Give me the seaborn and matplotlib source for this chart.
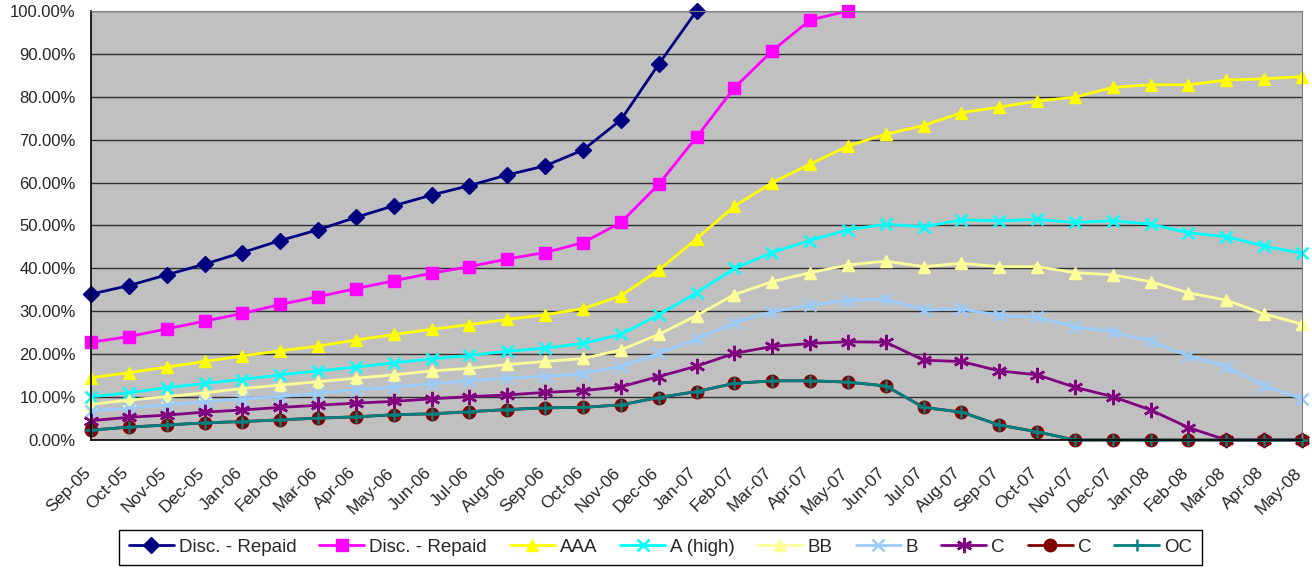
import numpy as np
import pandas as pd
import seaborn as sns
import matplotlib.pyplot as plt
from matplotlib.ticker import PercentFormatter
from matplotlib.transforms import ScaledTranslation

# eixo x: meses de Sep-05 a May-08
meses = ['Sep-05', 'Oct-05', 'Nov-05', 'Dec-05', 'Jan-06', 'Feb-06', 'Mar-06', 'Apr-06',
         'May-06', 'Jun-06', 'Jul-06', 'Aug-06', 'Sep-06', 'Oct-06', 'Nov-06', 'Dec-06',
         'Jan-07', 'Feb-07', 'Mar-07', 'Apr-07', 'May-07', 'Jun-07', 'Jul-07', 'Aug-07',
         'Sep-07', 'Oct-07', 'Nov-07', 'Dec-07', 'Jan-08', 'Feb-08', 'Mar-08', 'Apr-08',
         'May-08']

nan = np.nan
disc_repaid_1 = [34.0, 36.0, 38.5, 41.0, 43.7, 46.5, 49.0, 51.9, 54.6, 57.1, 59.3, 61.8,
                 63.9, 67.6, 74.6, 87.6, 100.0] + [nan] * 16
disc_repaid_2 = [22.8, 24.1, 25.9, 27.7, 29.5, 31.6, 33.4, 35.3, 37.1, 38.9, 40.4, 42.2,
                 43.7, 46.0, 50.7, 59.6, 70.6, 82.1, 90.7, 97.9, 100.0] + [nan] * 12
aaa = [14.5, 15.7, 17.0, 18.3, 19.6, 20.8, 21.9, 23.3, 24.6, 25.8, 26.9, 28.1,
       29.2, 30.6, 33.6, 39.6, 46.9, 54.5, 60.0, 64.3, 68.5, 71.3, 73.3, 76.3,
       77.6, 79.0, 79.9, 82.2, 82.8, 82.8, 83.9, 84.2, 84.7]
a_high = [10.1, 11.0, 12.2, 13.2, 14.1, 15.2, 16.1, 17.0, 18.0, 18.9, 19.7, 20.7,
          21.4, 22.5, 24.6, 29.2, 34.3, 40.0, 43.7, 46.5, 49.0, 50.3, 49.7, 51.3,
          51.1, 51.4, 50.7, 51.1, 50.3, 48.3, 47.4, 45.2, 43.5]
bb = [8.3, 9.3, 10.1, 11.0, 12.0, 12.8, 13.6, 14.4, 15.2, 16.1, 16.7, 17.6,
      18.3, 19.0, 21.0, 24.6, 29.0, 33.9, 36.9, 39.0, 40.8, 41.7, 40.4, 41.2,
      40.4, 40.4, 39.0, 38.5, 36.9, 34.3, 32.6, 29.4, 27.0]
b = [6.8, 7.4, 8.2, 8.9, 9.6, 10.1, 10.9, 11.7, 12.4, 13.1, 13.8, 14.4,
     14.8, 15.5, 17.1, 20.2, 23.5, 27.3, 29.9, 31.4, 32.5, 32.8, 30.3, 30.5,
     29.1, 28.6, 26.4, 25.2, 23.0, 19.6, 17.1, 12.7, 9.6]
c_1 = [4.5, 5.3, 5.8, 6.5, 7.0, 7.6, 8.1, 8.6, 9.0, 9.6, 10.1, 10.5,
       11.1, 11.5, 12.4, 14.8, 17.2, 20.2, 21.8, 22.5, 22.9, 22.8, 18.6, 18.3,
       16.1, 15.2, 12.3, 10.1, 7.0, 2.9, 0.0, 0.0, 0.0]
c_2 = [2.3, 3.0, 3.5, 4.0, 4.3, 4.7, 5.1, 5.4, 5.9, 6.1, 6.6, 7.1,
       7.5, 7.6, 8.2, 9.9, 11.3, 13.2, 13.8, 13.8, 13.5, 12.6, 7.6, 6.5,
       3.5, 1.9, 0.0, 0.0, 0.0, 0.0, 0.0, 0.0, 0.0]
oc = list(c_2)

series = [
    ('Disc. - Repaid', disc_repaid_1, '#000080', 'D', 8),
    ('Disc. - Repaid', disc_repaid_2, '#FF00FF', 's', 9),
    ('AAA', aaa, '#FFFF00', '^', 9),
    ('A (high)', a_high, '#00FFFF', 'x', 9),
    ('BB', bb, '#FFFF99', '^', 9),
    ('B', b, '#99CCFF', 'x', 9),
    ('C', c_1, '#800080', (6, 2, 0), 11),
    ('C', c_2, '#800000', 'o', 9),
    ('OC', oc, '#008080', '+', 9),
]

sns.set_style('white')
plt.rcParams['font.family'] = ['Liberation Sans', 'DejaVu Sans']

fig = plt.figure(figsize=(13.12, 5.69), dpi=100)
ax = fig.add_axes([0.0694, 0.2267, 0.9230, 0.7540])
ax.set_facecolor('#C0C0C0')

x = np.arange(len(meses))
for nome, valores, cor, marcador, tam in series:
    df = pd.DataFrame({'mes': x, 'valor': np.array(valores, dtype=float) / 100})
    mew = 1.8 if marcador in ('x', '+', (6, 2, 0)) else 1
    sns.lineplot(data=df, x='mes', y='valor', ax=ax, color=cor, marker=marcador,
                 markersize=tam, markeredgecolor=cor, markerfacecolor=cor,
                 markeredgewidth=mew, linewidth=2, label=nome, clip_on=False)

ax.set_xlim(0, len(meses) - 1)
ax.set_ylim(0, 1)
ax.set_yticks(np.arange(0, 1.01, 0.1))
ax.yaxis.set_major_formatter(PercentFormatter(1.0, decimals=2))
ax.set_xticks(x)
ax.set_xticklabels(meses, rotation=45, ha='right', rotation_mode='anchor')
ax.tick_params(axis='y', labelsize=12, length=3.6, width=1, color='black', pad=7.5)
ax.tick_params(axis='x', labelsize=12.5, length=4, width=1, color='black', pad=14)
# desloca os rótulos do eixo x um pouco para a esquerda
desloc = ScaledTranslation(-8 / 100, 0, fig.dpi_scale_trans)
for rotulo in ax.get_xticklabels():
    rotulo.set_transform(rotulo.get_transform() + desloc)
ax.grid(axis='y', color='#303030', linewidth=1)
ax.set_axisbelow(True)
ax.set_xlabel('')
ax.set_ylabel('')
for lado in ['top', 'right']:
    ax.spines[lado].set_color('#808080')
for lado in ['left', 'bottom']:
    ax.spines[lado].set_color('black')
    ax.spines[lado].set_linewidth(1.2)

ax.legend(loc='center', bbox_to_anchor=(0.5034, 0.0378), bbox_transform=fig.transFigure,
          ncol=9, fontsize=13.5, frameon=True, fancybox=False, edgecolor='black',
          handlelength=2.4, handletextpad=0.27, columnspacing=1.22, borderpad=0.5,
          framealpha=1)
ax.get_legend().get_frame().set_linewidth(1)

plt.savefig('out.png', dpi=100)
